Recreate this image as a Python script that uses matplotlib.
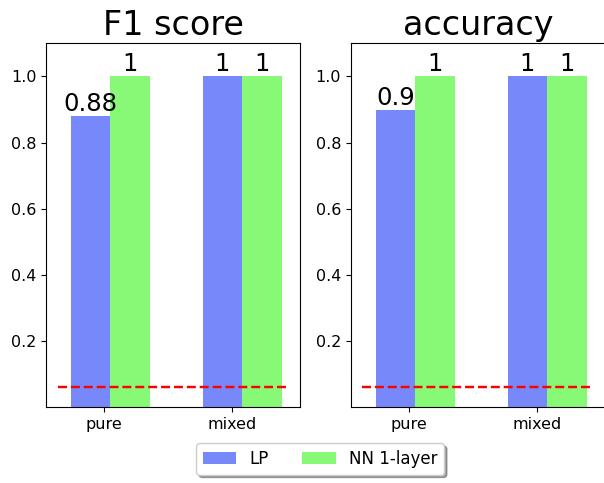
import numpy as np
import matplotlib
matplotlib.use("Agg")
import matplotlib.pyplot as plt

# scores per dataset
groups = ["pure", "mixed"]
lp_f1 = [0.88, 1]
nn_f1 = [1, 1]
lp_acc = [0.9, 1]
nn_acc = [1, 1]
chance = 0.06

width = 0.3
ind = np.arange(len(groups))
tick_pos = [0.25, 1.22]

fig = plt.figure(figsize=(6.04, 4.83), dpi=100)
ax1 = fig.add_axes([0.0762, 0.1567, 0.4205, 0.7536])
ax2 = fig.add_axes([0.581, 0.1567, 0.4205, 0.7536])

for ax, lp, nn, title in [(ax1, lp_f1, nn_f1, "F1 score"),
                          (ax2, lp_acc, nn_acc, "accuracy")]:
    b1 = ax.bar(ind, lp, width, align="edge", color="#7789fa", label="LP")
    b2 = ax.bar(ind + width, nn, width, align="edge", color="#88f977", label="NN 1-layer")
    ax.bar_label(b1, fmt="%g", fontsize=17.5)
    ax.bar_label(b2, fmt="%g", fontsize=17.5)
    ax.plot([-0.1, 1.65], [chance, chance], "r--", lw=1.75)
    ax.set_xticks(tick_pos)
    ax.set_xticklabels(groups)
    ax.set_yticks([0.2, 0.4, 0.6, 0.8, 1.0])
    ax.tick_params(labelsize=11.5)
    ax.set_ylim(0, 1.1)
    ax.set_title(title, fontsize=24)

handles, labels = ax1.get_legend_handles_labels()
fig.legend(handles, labels, loc="lower center", ncol=2, shadow=True,
           fontsize=12, bbox_to_anchor=(0.53, 0.0))

plt.savefig("out.png")
